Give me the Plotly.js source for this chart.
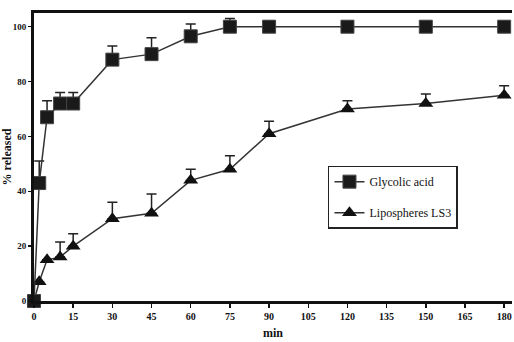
<!DOCTYPE html>
<html><head><meta charset="utf-8">
<script src="https://cdn.plot.ly/plotly-3.0.1.min.js"></script>
<style>html,body{margin:0;padding:0;background:#fff}#chart{width:514px;height:342px}</style>
</head><body><div id="chart"></div>
<script>
const timeMin = [0, 2, 5, 10, 15, 30, 45, 60, 75, 90, 120, 150, 180];
const glycolicAcid = [0, 43, 67, 72, 72, 88, 90, 96.5, 100, 100, 100, 100, 100];
const glycolicErr = [0, 8, 6, 4, 4, 5, 6, 4.5, 3, 2, 0, 0, 0];
const lipospheres = [0, 7, 15, 16, 20, 30, 32, 44, 48, 61, 70, 72, 75];
const lipoErr = [0, 0, 0, 5.5, 4.5, 6, 7, 4, 5, 4.5, 3, 3.5, 3.5];
const xTicks = [0, 15, 30, 45, 60, 75, 90, 105, 120, 135, 150, 165, 180];
const yTicks = [0, 20, 40, 60, 80, 100];

const serif = "Liberation Serif, Times New Roman, serif";
const traces = [
  {x: timeMin, y: lipospheres, name: "Lipospheres LS3", type: "scatter", mode: "lines+markers",
   legendgroup: "b", legendrank: 2, cliponaxis: false,
   line: {color: "#333", width: 1.5},
   marker: {symbol: "triangle-up", size: 13, color: "#111"},
   error_y: {type: "data", symmetric: false, array: lipoErr, arrayminus: lipoErr.map(() => 0),
             color: "#222", thickness: 1.5, width: 5}},
  {x: timeMin, y: glycolicAcid, name: "Glycolic acid", type: "scatter", mode: "lines+markers",
   legendgroup: "a", legendrank: 1, cliponaxis: false,
   line: {color: "#333", width: 1.5},
   marker: {symbol: "square", size: 13, color: "#1a1a1a", line: {color: "#444", width: 1}},
   error_y: {type: "data", symmetric: false, array: glycolicErr, arrayminus: glycolicErr.map(() => 0),
             color: "#222", thickness: 1.5, width: 5}}
];
const layout = {
  width: 514, height: 342,
  margin: {l: 34, r: 2, t: 13, b: 41},
  paper_bgcolor: "#fff", plot_bgcolor: "#fff",
  font: {family: serif, color: "#111", size: 10},
  showlegend: true,
  legend: {x: 0.615, y: 0.47, xanchor: "left", yanchor: "top",
           bordercolor: "#222", borderwidth: 1.5, bgcolor: "#fff",
           traceorder: "grouped", tracegroupgap: 12,
           font: {family: serif, size: 12, color: "#111"}},
  xaxis: {range: [0, 183], tickvals: xTicks, ticktext: xTicks.map(String),
          showgrid: false, zeroline: false, showline: true, linecolor: "#111", linewidth: 3,
          mirror: true, ticks: "outside", ticklen: 4, tickwidth: 1.5, tickcolor: "#111",
          tickfont: {family: serif, size: 10, weight: "bold"},
          title: {text: "min", font: {family: serif, size: 12, weight: "bold"}, standoff: 8}},
  yaxis: {range: [0, 105], tickvals: yTicks, ticktext: yTicks.map(String),
          showgrid: false, zeroline: false, showline: true, linecolor: "#111", linewidth: 3,
          ticks: "outside", ticklen: 3, tickwidth: 1.5, tickcolor: "#111",
          tickfont: {family: serif, size: 9, weight: "bold"},
          title: {text: "% released", font: {family: serif, size: 12, weight: "bold"}, standoff: 4}}
};
Plotly.newPlot("chart", traces, layout, {displayModeBar: false, staticPlot: true});
</script></body></html>
